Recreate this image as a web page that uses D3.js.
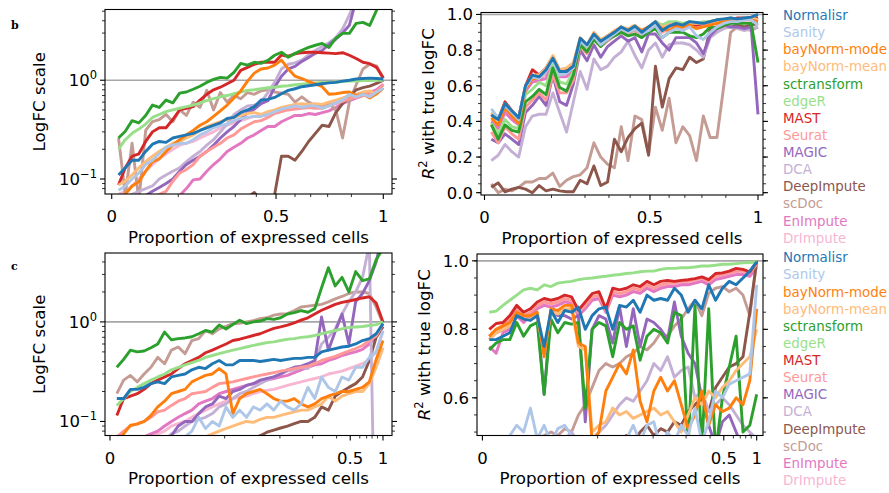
<!DOCTYPE html>
<html>
<head>
<meta charset="utf-8">
<script src="https://cdn.jsdelivr.net/npm/d3@7"></script>
<style>
  body { margin: 0; background: #fff; }
  text { font-family: "DejaVu Sans", sans-serif; fill: #000; }
</style>
</head>
<body>
<svg id="fig" width="889" height="493"></svg>
<script>
// methods in legend order, tab20 colours
const methods = ["Normalisr", "Sanity", "bayNorm-mode", "bayNorm-mean", "sctransform", "edgeR", "MAST",
  "Seurat", "MAGIC", "DCA", "DeepImpute", "scDoc", "EnImpute", "DrImpute"];
const colors = ["#1f77b4", "#aec7e8", "#ff7f0e", "#ffbb78", "#2ca02c", "#98df8a", "#d62728",
  "#ff9896", "#9467bd", "#c5b0d5", "#8c564b", "#c49c94", "#e377c2", "#f7b6d2"];

// genes are binned into 40 equal-size bins by proportion of expressed cells;
// tick marks sit at the bin where each proportion is reached
const nBins = 40;
const propTicks = [0, 0.1, 0.2, 0.3, 0.4, 0.5, 0.6, 0.7, 0.8, 0.9, 1];
const propLabels = ["0", "", "", "", "", "0.5", "", "", "", "", "1"];
const tickBinsB = [0, 9.8, 14.7, 18.2, 21.3, 24.2, 27.0, 29.3, 31.8, 35.3, 40];
const tickBinsC = [0, 16.8, 24.9, 29.7, 33.2, 35.2, 36.6, 37.6, 38.4, 39.2, 40];

// panel b, logFC scale (one row per method)
const scaleB = [
  [0.11,0.13,0.155,0.155,0.19,0.225,0.24,0.235,0.26,0.27,0.28,0.29,0.31,0.33,0.35,0.37,0.41,0.42,0.47,0.5,0.54,0.63,0.64,0.67,0.73,0.79,0.82,0.86,0.88,0.9,0.92,0.94,0.95,0.98,1.0,1.03,1.04,1.05,1.04,1.03],
  [0.077,0.085,0.1,0.115,0.14,0.155,0.18,0.21,0.22,0.23,0.23,0.25,0.28,0.3,0.33,0.35,0.36,0.39,0.41,0.42,0.43,0.43,0.45,0.48,0.51,0.53,0.55,0.53,0.55,0.55,0.52,0.55,0.59,0.63,0.72,0.68,0.72,0.68,0.76,0.83],
  [0.065,0.07,0.085,0.094,0.12,0.15,0.16,0.19,0.22,0.25,0.28,0.31,0.35,0.38,0.43,0.49,0.56,0.66,0.78,0.98,1.18,1.3,1.33,1.42,1.6,1.3,1.1,1.04,0.97,0.92,0.86,0.72,0.73,0.75,0.76,0.7,0.72,0.66,0.73,0.83],
  [0.087,0.095,0.11,0.13,0.15,0.17,0.19,0.21,0.23,0.24,0.26,0.28,0.31,0.34,0.36,0.38,0.4,0.42,0.44,0.46,0.47,0.45,0.48,0.5,0.53,0.55,0.57,0.58,0.57,0.58,0.57,0.6,0.63,0.66,0.7,0.72,0.76,0.78,0.72,0.84],
  [0.26,0.305,0.39,0.37,0.44,0.56,0.53,0.63,0.59,0.74,0.76,0.81,0.87,0.95,1.02,1.07,1.05,1.2,1.48,1.42,1.52,1.48,1.59,1.79,1.92,1.71,1.87,2.01,2.15,2.26,2.36,2.15,2.66,2.98,2.98,3.76,3.85,3.59,5.1,7.2],
  [0.2,0.25,0.29,0.32,0.36,0.42,0.45,0.48,0.5,0.52,0.54,0.56,0.59,0.62,0.65,0.68,0.7,0.73,0.76,0.79,0.8,0.82,0.84,0.85,0.87,0.88,0.9,0.91,0.93,0.94,0.95,0.95,0.96,0.97,0.98,0.98,0.99,0.99,1.0,1.0],
  [0.087,0.13,0.17,0.18,0.24,0.3,0.33,0.33,0.4,0.5,0.52,0.54,0.63,0.72,0.8,0.85,0.92,1.0,1.26,1.35,1.45,1.52,1.52,1.52,1.8,1.75,1.85,1.9,1.92,1.92,1.9,1.88,1.86,1.9,1.79,1.66,1.52,1.47,1.35,1.05],
  [0.04,0.045,0.05,0.055,0.06,0.065,0.07,0.075,0.095,0.115,0.125,0.14,0.17,0.19,0.21,0.23,0.26,0.28,0.32,0.35,0.38,0.39,0.42,0.46,0.48,0.5,0.51,0.52,0.53,0.52,0.52,0.55,0.58,0.61,0.65,0.67,0.7,0.73,0.77,0.9],
  [0.05,0.055,0.06,0.065,0.068,0.075,0.082,0.09,0.1,0.12,0.14,0.155,0.17,0.19,0.22,0.26,0.3,0.34,0.4,0.47,0.51,0.58,0.62,0.85,1.1,1.3,1.38,1.55,1.7,1.87,2.0,2.3,2.6,3.0,3.6,6.5,8,9,10,11],
  [0.06,0.065,0.07,0.075,0.08,0.085,0.1,0.11,0.12,0.13,0.15,0.17,0.19,0.22,0.25,0.3,0.36,0.45,0.5,0.55,0.56,0.6,0.75,0.95,1.3,1.45,1.5,1.6,1.8,2.0,2.2,2.4,2.7,3.3,4.6,6.5,8,9,10,11],
  [0.02,0.02,0.02,0.025,0.025,0.03,0.03,0.03,0.035,0.035,0.04,0.04,0.045,0.05,0.05,0.055,0.055,0.06,0.06,0.065,0.073,0.06,0.05,0.07,0.17,0.17,0.155,0.19,0.24,0.29,0.35,0.34,0.47,0.58,0.68,0.8,0.84,0.87,0.93,1.0],
  [0.26,0.07,0.23,0.06,0.31,0.38,0.4,0.45,0.38,0.5,0.44,0.6,0.53,0.79,0.5,0.75,0.6,0.7,0.65,0.75,0.72,0.78,0.8,0.76,0.74,0.72,0.6,0.68,0.6,0.55,0.56,0.58,0.5,0.26,0.6,0.9,1.3,1.45,1.4,1.05],
  [0.03,0.032,0.035,0.038,0.04,0.045,0.05,0.055,0.06,0.068,0.08,0.098,0.1,0.12,0.14,0.16,0.19,0.21,0.23,0.26,0.28,0.31,0.34,0.34,0.38,0.41,0.44,0.44,0.46,0.45,0.47,0.49,0.53,0.58,0.62,0.66,0.7,0.74,0.8,0.9],
  [0.07,0.075,0.085,0.1,0.12,0.14,0.16,0.18,0.2,0.22,0.23,0.24,0.26,0.28,0.3,0.33,0.35,0.37,0.39,0.41,0.43,0.44,0.44,0.47,0.5,0.52,0.53,0.54,0.55,0.56,0.55,0.58,0.62,0.66,0.7,0.72,0.74,0.76,0.8,0.92]
];

// panel b, R^2 with true logFC
const r2B = [
  [0.436,0.41,0.5,0.46,0.42,0.6,0.66,0.65,0.69,0.755,0.68,0.68,0.71,0.867,0.83,0.89,0.85,0.875,0.9,0.93,0.91,0.935,0.9,0.93,0.96,0.91,0.935,0.95,0.94,0.96,0.955,0.95,0.96,0.97,0.975,0.98,0.975,0.98,0.985,1.0],
  [0.47,0.42,0.49,0.45,0.41,0.59,0.65,0.64,0.68,0.74,0.66,0.67,0.7,0.85,0.82,0.88,0.83,0.86,0.89,0.92,0.9,0.92,0.89,0.91,0.94,0.87,0.9,0.92,0.91,0.93,0.88,0.86,0.9,0.93,0.95,0.96,0.96,0.97,0.97,0.94],
  [0.42,0.38,0.48,0.43,0.39,0.58,0.64,0.64,0.68,0.75,0.67,0.67,0.7,0.86,0.82,0.89,0.85,0.87,0.9,0.92,0.91,0.93,0.91,0.93,0.95,0.92,0.91,0.93,0.93,0.94,0.92,0.93,0.94,0.95,0.96,0.96,0.97,0.97,0.97,0.96],
  [0.45,0.41,0.5,0.46,0.42,0.6,0.66,0.66,0.7,0.77,0.69,0.7,0.73,0.87,0.83,0.9,0.86,0.88,0.91,0.93,0.92,0.94,0.91,0.93,0.96,0.93,0.94,0.95,0.94,0.95,0.95,0.95,0.96,0.96,0.97,0.98,0.97,0.98,0.98,0.97],
  [0.38,0.3,0.38,0.35,0.34,0.51,0.54,0.58,0.55,0.7,0.59,0.57,0.66,0.83,0.79,0.86,0.82,0.86,0.88,0.9,0.88,0.89,0.87,0.9,0.92,0.87,0.9,0.9,0.9,0.88,0.87,0.89,0.93,0.92,0.94,0.95,0.95,0.95,0.95,0.73],
  [0.39,0.33,0.41,0.37,0.36,0.55,0.58,0.62,0.6,0.72,0.62,0.61,0.68,0.85,0.81,0.88,0.84,0.87,0.9,0.92,0.9,0.92,0.9,0.93,0.96,0.94,0.96,0.96,0.95,0.96,0.95,0.96,0.96,0.97,0.97,0.98,0.97,0.98,0.98,0.97],
  [0.44,0.41,0.51,0.46,0.42,0.6,0.69,0.66,0.7,0.76,0.68,0.69,0.72,0.86,0.83,0.89,0.85,0.88,0.9,0.93,0.91,0.93,0.91,0.93,0.95,0.92,0.94,0.94,0.94,0.95,0.94,0.95,0.96,0.97,0.97,0.97,0.98,0.98,0.98,0.98],
  [0.34,0.28,0.37,0.33,0.3,0.48,0.52,0.56,0.52,0.66,0.56,0.56,0.63,0.82,0.78,0.86,0.82,0.85,0.88,0.9,0.89,0.91,0.88,0.92,0.93,0.9,0.92,0.93,0.92,0.94,0.93,0.94,0.95,0.95,0.96,0.96,0.97,0.97,0.97,0.97],
  [0.3,0.28,0.33,0.3,0.27,0.45,0.49,0.54,0.49,0.66,0.51,0.49,0.61,0.8,0.74,0.83,0.76,0.82,0.85,0.88,0.85,0.87,0.79,0.89,0.89,0.84,0.8,0.87,0.87,0.87,0.84,0.78,0.88,0.92,0.94,0.93,0.93,0.92,0.93,0.44],
  [0.18,0.21,0.27,0.23,0.2,0.37,0.43,0.44,0.44,0.56,0.45,0.34,0.51,0.68,0.58,0.75,0.69,0.71,0.76,0.79,0.85,0.77,0.7,0.8,0.84,0.76,0.83,0.84,0.84,0.83,0.8,0.76,0.87,0.9,0.92,0.93,0.92,0.91,0.92,0.93],
  [0.03,0.055,0.005,0.02,0.03,0.02,0.0,0.04,0.01,0.02,0.01,0.005,0.005,0.07,0.05,0.15,0.04,0.06,0.3,0.23,0.31,0.36,0.39,0.21,0.71,0.48,0.64,0.7,0.69,0.76,0.73,0.75,0.92,0.93,0.93,0.93,0.94,0.93,0.94,0.95],
  [0.05,0.0,0.02,0.01,0.03,0.06,0.06,0.08,0.08,0.11,0.035,0.07,0.09,0.1,0.14,0.28,0.2,0.16,0.14,0.37,0.18,0.43,0.41,0.22,0.48,0.35,0.53,0.28,0.37,0.32,0.18,0.43,0.31,0.31,0.6,0.9,0.93,0.92,0.91,0.93],
  [0.4,0.36,0.45,0.41,0.38,0.57,0.62,0.63,0.64,0.74,0.65,0.65,0.69,0.85,0.81,0.88,0.84,0.87,0.9,0.92,0.9,0.92,0.9,0.93,0.95,0.92,0.94,0.94,0.94,0.95,0.94,0.95,0.96,0.96,0.97,0.97,0.97,0.97,0.98,0.97],
  [0.41,0.37,0.46,0.42,0.39,0.58,0.63,0.64,0.66,0.75,0.66,0.66,0.7,0.86,0.82,0.88,0.85,0.87,0.9,0.92,0.91,0.93,0.9,0.93,0.95,0.93,0.94,0.95,0.94,0.95,0.94,0.95,0.96,0.96,0.97,0.97,0.97,0.98,0.98,0.97]
];

// panel c, logFC scale
const scaleC = [
  [0.17,0.17,0.21,0.21,0.22,0.24,0.25,0.24,0.28,0.29,0.3,0.33,0.35,0.34,0.38,0.41,0.37,0.37,0.41,0.41,0.41,0.4,0.41,0.42,0.41,0.42,0.43,0.43,0.44,0.44,0.5,0.52,0.54,0.56,0.57,0.6,0.65,0.68,0.76,0.96],
  [0.03,0.032,0.035,0.038,0.04,0.045,0.05,0.055,0.06,0.065,0.07,0.08,0.11,0.085,0.1,0.09,0.14,0.11,0.13,0.11,0.14,0.13,0.15,0.13,0.16,0.14,0.13,0.15,0.22,0.17,0.28,0.22,0.2,0.28,0.26,0.35,0.35,0.44,0.5,0.82],
  [0.06,0.075,0.092,0.094,0.1,0.115,0.14,0.16,0.19,0.2,0.21,0.25,0.27,0.29,0.3,0.34,0.3,0.12,0.17,0.19,0.2,0.21,0.19,0.17,0.16,0.16,0.17,0.15,0.14,0.15,0.17,0.18,0.19,0.2,0.2,0.21,0.22,0.25,0.42,0.65],
  [0.035,0.037,0.04,0.042,0.045,0.047,0.05,0.052,0.055,0.058,0.06,0.063,0.066,0.07,0.075,0.08,0.085,0.09,0.095,0.1,0.098,0.105,0.11,0.11,0.115,0.12,0.125,0.13,0.13,0.14,0.15,0.18,0.16,0.18,0.19,0.2,0.2,0.24,0.35,0.55],
  [0.35,0.42,0.52,0.5,0.51,0.55,0.6,0.79,0.66,0.68,0.69,0.71,0.76,0.82,0.79,0.93,0.85,0.94,1.04,0.96,1.0,1.02,1.08,1.06,1.1,1.2,1.24,1.3,1.25,1.36,2.2,3.5,2.3,2.8,2.0,3.2,2.6,2.7,4.2,5.5],
  [0.145,0.17,0.2,0.22,0.24,0.26,0.28,0.3,0.33,0.35,0.37,0.39,0.41,0.44,0.46,0.48,0.5,0.52,0.54,0.56,0.58,0.6,0.62,0.63,0.65,0.67,0.68,0.7,0.71,0.73,0.76,0.79,0.82,0.85,0.88,0.89,0.9,0.92,0.94,1.0],
  [0.115,0.17,0.18,0.19,0.21,0.24,0.26,0.28,0.3,0.34,0.38,0.41,0.44,0.49,0.52,0.56,0.6,0.65,0.67,0.7,0.73,0.76,0.81,0.86,0.89,0.93,0.98,1.04,1.1,1.2,1.31,1.4,1.5,1.57,1.62,1.68,1.74,1.79,1.55,1.0],
  [0.07,0.08,0.09,0.095,0.1,0.11,0.125,0.13,0.145,0.16,0.17,0.19,0.195,0.2,0.22,0.24,0.245,0.25,0.26,0.27,0.28,0.29,0.3,0.31,0.32,0.33,0.34,0.35,0.36,0.38,0.41,0.43,0.45,0.48,0.51,0.54,0.58,0.65,0.72,0.95],
  [0.03,0.032,0.035,0.038,0.04,0.045,0.05,0.06,0.072,0.09,0.1,0.1,0.12,0.14,0.15,0.18,0.17,0.2,0.21,0.23,0.24,0.26,0.27,0.28,0.3,0.33,0.35,0.36,0.38,0.41,1.12,0.52,0.8,1.2,0.6,1.6,1.93,2.6,4.0,8],
  [0.035,0.038,0.04,0.045,0.05,0.055,0.06,0.065,0.075,0.08,0.09,0.1,0.105,0.11,0.12,0.14,0.15,0.17,0.19,0.2,0.22,0.24,0.26,0.28,0.3,0.32,0.33,0.35,0.34,0.4,0.6,0.7,0.85,1.2,1.6,2.0,2.8,6,0.001,0.001],
  [0.02,0.021,0.022,0.024,0.025,0.027,0.029,0.031,0.033,0.035,0.037,0.039,0.041,0.043,0.045,0.047,0.05,0.052,0.055,0.062,0.068,0.072,0.078,0.082,0.086,0.09,0.095,0.1,0.1,0.11,0.14,0.13,0.18,0.2,0.22,0.24,0.28,0.41,0.7,0.9],
  [0.19,0.26,0.29,0.25,0.3,0.35,0.44,0.38,0.52,0.56,0.48,0.65,0.68,0.82,0.76,0.85,0.9,0.96,0.97,1.0,1.03,1.08,1.1,1.17,1.2,1.21,1.3,1.41,1.44,1.47,1.5,1.59,1.7,1.8,1.93,2.0,2.0,1.93,1.41,0.96],
  [0.05,0.055,0.06,0.065,0.07,0.075,0.08,0.09,0.1,0.11,0.12,0.13,0.15,0.16,0.17,0.19,0.2,0.21,0.22,0.23,0.24,0.25,0.26,0.27,0.28,0.29,0.31,0.33,0.35,0.37,0.38,0.41,0.43,0.46,0.48,0.5,0.53,0.6,0.7,0.9],
  [0.045,0.05,0.055,0.06,0.065,0.07,0.075,0.08,0.09,0.095,0.1,0.11,0.12,0.13,0.14,0.15,0.16,0.17,0.175,0.18,0.19,0.2,0.205,0.21,0.22,0.23,0.24,0.25,0.26,0.27,0.28,0.3,0.31,0.32,0.34,0.36,0.38,0.42,0.5,0.8]
];

// panel c, R^2 with true logFC
const r2C = [
  [0.77,0.77,0.78,0.79,0.84,0.83,0.826,0.84,0.75,0.855,0.82,0.855,0.85,0.865,0.8,0.84,0.86,0.865,0.8,0.87,0.865,0.885,0.85,0.9,0.885,0.89,0.885,0.92,0.9,0.85,0.885,0.86,0.93,0.885,0.92,0.94,0.93,0.95,0.97,0.997],
  [0.42,0.44,0.46,0.49,0.52,0.5,0.57,0.48,0.52,0.47,0.51,0.52,0.49,0.47,0.45,0.44,0.46,0.45,0.44,0.46,0.48,0.52,0.47,0.52,0.53,0.45,0.5,0.47,0.52,0.49,0.57,0.47,0.53,0.62,0.6,0.64,0.65,0.66,0.67,0.93],
  [0.78,0.8,0.81,0.82,0.85,0.84,0.84,0.85,0.72,0.86,0.855,0.87,0.87,0.76,0.75,0.47,0.5,0.62,0.66,0.7,0.67,0.74,0.59,0.53,0.62,0.66,0.62,0.65,0.58,0.51,0.55,0.62,0.52,0.58,0.56,0.57,0.6,0.58,0.65,0.86],
  [0.77,0.79,0.8,0.81,0.84,0.83,0.83,0.84,0.73,0.85,0.845,0.86,0.86,0.75,0.74,0.5,0.52,0.53,0.57,0.55,0.56,0.54,0.55,0.56,0.57,0.55,0.56,0.53,0.5,0.55,0.6,0.58,0.62,0.6,0.63,0.65,0.68,0.7,0.72,0.8],
  [0.74,0.76,0.77,0.77,0.82,0.78,0.81,0.82,0.61,0.83,0.79,0.82,0.815,0.82,0.57,0.8,0.82,0.81,0.72,0.82,0.8,0.81,0.71,0.78,0.8,0.79,0.76,0.85,0.84,0.46,0.87,0.45,0.86,0.44,0.6,0.69,0.78,0.5,0.52,0.61],
  [0.85,0.853,0.87,0.885,0.9,0.915,0.92,0.915,0.93,0.925,0.935,0.938,0.94,0.945,0.948,0.95,0.953,0.955,0.958,0.96,0.963,0.965,0.968,0.97,0.97,0.975,0.978,0.978,0.98,0.98,0.982,0.985,0.985,0.987,0.99,0.99,0.992,0.994,0.995,0.997],
  [0.8,0.817,0.82,0.84,0.87,0.85,0.86,0.88,0.89,0.885,0.89,0.9,0.895,0.856,0.88,0.904,0.91,0.86,0.92,0.915,0.92,0.93,0.925,0.94,0.93,0.94,0.943,0.94,0.943,0.945,0.948,0.953,0.945,0.963,0.965,0.97,0.978,0.975,0.968,0.997],
  [0.78,0.8,0.81,0.83,0.86,0.84,0.85,0.87,0.88,0.875,0.88,0.89,0.885,0.85,0.87,0.895,0.9,0.855,0.91,0.905,0.91,0.92,0.915,0.93,0.92,0.93,0.935,0.935,0.94,0.94,0.945,0.95,0.94,0.955,0.96,0.965,0.97,0.97,0.965,0.99],
  [0.78,0.79,0.8,0.81,0.84,0.83,0.83,0.84,0.61,0.855,0.84,0.84,0.83,0.84,0.53,0.8,0.84,0.83,0.76,0.865,0.75,0.86,0.75,0.83,0.82,0.8,0.77,0.88,0.78,0.73,0.7,0.6,0.52,0.46,0.53,0.55,0.5,0.45,0.49,0.45],
  [0.45,0.46,0.47,0.46,0.48,0.47,0.46,0.48,0.45,0.47,0.46,0.48,0.5,0.47,0.46,0.48,0.5,0.52,0.55,0.58,0.6,0.59,0.62,0.65,0.7,0.68,0.72,0.66,0.68,0.69,0.6,0.62,0.56,0.58,0.6,0.58,0.55,0.52,0.5,0.48],
  [0.3,0.32,0.33,0.35,0.35,0.36,0.38,0.38,0.4,0.41,0.42,0.42,0.43,0.44,0.45,0.44,0.46,0.45,0.47,0.48,0.49,0.47,0.5,0.52,0.49,0.51,0.5,0.53,0.52,0.56,0.58,0.6,0.56,0.63,0.66,0.69,0.7,0.72,0.85,1.0],
  [0.42,0.44,0.45,0.46,0.47,0.46,0.47,0.48,0.49,0.5,0.49,0.51,0.5,0.55,0.58,0.63,0.68,0.7,0.69,0.7,0.72,0.73,0.75,0.74,0.76,0.79,0.78,0.81,0.83,0.86,0.885,0.84,0.905,0.92,0.925,0.91,0.92,0.9,0.84,0.997],
  [0.75,0.73,0.79,0.8,0.84,0.82,0.84,0.86,0.87,0.865,0.87,0.88,0.875,0.84,0.86,0.885,0.89,0.85,0.9,0.895,0.9,0.91,0.905,0.92,0.91,0.92,0.925,0.925,0.93,0.93,0.935,0.94,0.93,0.945,0.95,0.955,0.96,0.96,0.955,0.98],
  [0.77,0.79,0.8,0.82,0.85,0.83,0.845,0.865,0.875,0.87,0.875,0.885,0.88,0.845,0.865,0.89,0.895,0.85,0.905,0.9,0.905,0.915,0.91,0.925,0.915,0.925,0.93,0.93,0.935,0.935,0.94,0.945,0.935,0.95,0.955,0.96,0.965,0.965,0.96,0.985]
];

const svg = d3.select("#fig");

const panels = [
  { data: scaleB, ticks: tickBinsB, log: true,  box: [105, 9.5, 392, 194],   xDomain: [-0.99, 41.28], yDomain: [0.0705, 5.2],   ylabel: "logfc" },
  { data: r2B,    ticks: tickBinsB, log: false, box: [481, 12.5, 763, 195],  xDomain: [-0.51, 40.73], yDomain: [-0.013, 1.011], ylabel: "r2", legend: 15 },
  { data: scaleC, ticks: tickBinsC, log: true,  box: [105, 253, 392, 435.5], xDomain: [-0.73, 41.32], yDomain: [0.0723, 4.92],  ylabel: "logfc" },
  { data: r2C,    ticks: tickBinsC, log: false, box: [477, 254, 763, 435.5], xDomain: [-0.79, 40.92], yDomain: [0.49, 1.02],    ylabel: "r2", legend: 257.3 }
];

panels.forEach(function(p, pi) {
  const [x0, y0, x1, y1] = p.box;
  const g = svg.append("g");

  const x = d3.scaleLinear().domain(p.xDomain).range([x0, x1]);
  const y = (p.log ? d3.scaleLog() : d3.scaleLinear()).domain(p.yDomain).range([y1, y0]);

  const clipId = "clip" + pi;
  g.append("clipPath").attr("id", clipId)
    .append("rect").attr("x", x0).attr("y", y0).attr("width", x1 - x0).attr("height", y1 - y0);

  const plot = g.append("g").attr("clip-path", "url(#" + clipId + ")");

  // reference line at 1
  plot.append("line")
    .attr("x1", x0).attr("x2", x1)
    .attr("y1", y(1)).attr("y2", y(1))
    .attr("stroke", "#808080").attr("stroke-opacity", 0.7).attr("stroke-width", 1.6);

  const line = d3.line()
    .x((d, i) => x(i + 1))
    .y(d => y(d));

  // last method first so Normalisr ends up on top
  d3.range(methods.length).reverse().forEach(function(k) {
    plot.append("path")
      .datum(p.data[k])
      .attr("d", line)
      .attr("fill", "none")
      .attr("stroke", colors[k])
      .attr("stroke-width", 2.9)
      .attr("stroke-linejoin", "round");
  });

  // spines
  g.append("rect")
    .attr("x", x0).attr("y", y0).attr("width", x1 - x0).attr("height", y1 - y0)
    .attr("fill", "none").attr("stroke", "#000").attr("stroke-width", 1.1);

  // x ticks
  propTicks.forEach(function(t, i) {
    const major = propLabels[i] !== "";
    const xp = x(p.ticks[i]);
    g.append("line")
      .attr("x1", xp).attr("x2", xp)
      .attr("y1", y1).attr("y2", y1 + (major ? 5 : 3))
      .attr("stroke", "#000").attr("stroke-width", major ? 1.1 : 0.8);
    if (major) {
      g.append("text")
        .attr("x", xp).attr("y", y1 + 28)
        .attr("text-anchor", "middle")
        .attr("font-size", 16.5)
        .text(propLabels[i]);
    }
  });

  g.append("text")
    .attr("x", (x0 + x1) / 2).attr("y", y1 + 48.5)
    .attr("text-anchor", "middle")
    .attr("font-size", 16.7)
    .text("Proportion of expressed cells");

  // y ticks on both sides
  let majors, minors;
  if (p.log) {
    majors = [0.1, 1];
    minors = [];
    [0.01, 0.1, 1].forEach(function(d) {
      for (let m = 2; m <= 9; m++) {
        const v = m * d;
        if (v >= p.yDomain[0] && v <= p.yDomain[1]) minors.push(v);
      }
    });
  } else {
    majors = d3.range(0, 1.0001, 0.2).filter(v => v >= p.yDomain[0] && v <= p.yDomain[1]);
    minors = d3.range(0, 1.0001, 0.05).filter(v => v >= p.yDomain[0] && v <= p.yDomain[1]);
  }
  const tickY = function(v, len, w) {
    const yp = y(v);
    g.append("line").attr("x1", x0).attr("x2", x0 - len).attr("y1", yp).attr("y2", yp)
      .attr("stroke", "#000").attr("stroke-width", w);
    g.append("line").attr("x1", x1).attr("x2", x1 + len).attr("y1", yp).attr("y2", yp)
      .attr("stroke", "#000").attr("stroke-width", w);
  };
  minors.forEach(v => tickY(v, 3, 0.8));
  majors.forEach(function(v) {
    tickY(v, 5, 1.1);
    const t = g.append("text")
      .attr("x", x0 - 8).attr("y", y(v) + 6)
      .attr("text-anchor", "end")
      .attr("font-size", 16.5);
    if (p.log) {
      t.append("tspan").text("10");
      t.append("tspan").attr("dy", -7).attr("font-size", 11.5)
        .text(v < 1 ? "\u22121" : "0");
    } else {
      t.text(d3.format(".1f")(v));
    }
  });

  // y label
  const yc = (y0 + y1) / 2;
  if (p.ylabel === "logfc") {
    g.append("text")
      .attr("transform", "translate(" + (x0 - 60) + "," + yc + ") rotate(-90)")
      .attr("text-anchor", "middle")
      .attr("font-size", 16.7)
      .text("LogFC scale");
  } else {
    const t = g.append("text")
      .attr("transform", "translate(" + (x0 - 47) + "," + yc + ") rotate(-90)")
      .attr("text-anchor", "middle")
      .attr("font-size", 16.7);
    t.append("tspan").attr("font-style", "italic").text("R");
    t.append("tspan").attr("dy", -7).attr("font-size", 11.5).text("2");
    t.append("tspan").attr("dy", 7).text(" with true logFC");
  }

  // legend, text only
  if (p.legend !== undefined) {
    methods.forEach(function(m, k) {
      g.append("text")
        .attr("x", 783).attr("y", p.legend + k * 17.13 + 5)
        .attr("font-size", 13.4)
        .style("fill", colors[k])
        .text(m);
    });
  }
});

// panel letters
svg.append("text").attr("x", 11).attr("y", 29)
  .attr("font-weight", "bold").attr("font-size", 11)
  .style("font-family", "'DejaVu Serif', serif").text("b");
svg.append("text").attr("x", 11).attr("y", 270)
  .attr("font-weight", "bold").attr("font-size", 11)
  .style("font-family", "'DejaVu Serif', serif").text("c");
</script>
</body>
</html>
